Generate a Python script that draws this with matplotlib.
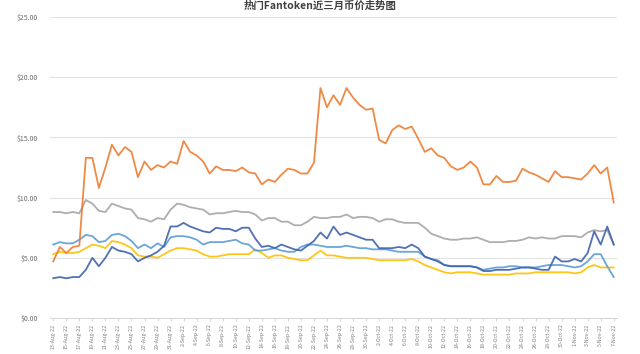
import matplotlib
matplotlib.use("Agg")
import matplotlib.pyplot as plt
import pandas as pd
import numpy as np

plt.rcParams['font.family'] = ['Noto Sans CJK SC', 'DejaVu Sans']

title = "热门Fantoken近三月币价走势图"
dates = pd.date_range("2022-08-13", "2022-11-07", freq="D")
date_labels = [f"{d.day}-{d.strftime('%b')}-22" for d in dates]

orange = [4.7, 5.9, 5.4, 5.9, 6.0, 13.3, 13.3, 10.8, 12.5, 14.4,
          13.5, 14.2, 13.8, 11.7, 13.0, 12.3, 12.7, 12.5, 13.0, 12.8,
          14.7, 13.8, 13.5, 13.0, 12.0, 12.6, 12.3, 12.3, 12.2, 12.5,
          12.1, 12.0, 11.1, 11.5, 11.3, 11.9, 12.4, 12.3, 12.0, 12.0,
          12.9,
          19.1, 17.5, 18.5, 17.7, 19.1, 18.3, 17.7, 17.3, 17.4, 14.8,
          14.5, 15.6, 16.0, 15.7, 15.9, 14.9, 13.8, 14.1, 13.5, 13.3,
          12.6, 12.3, 12.5, 13.0, 12.5, 11.1, 11.1, 11.8, 11.3, 11.3,
          11.4, 12.4, 12.1, 11.9, 11.6, 11.3, 12.2, 11.7, 11.7, 11.6,
          11.5, 12.0, 12.7, 12.0, 12.5, 9.6]

gray = [8.8, 8.8, 8.7, 8.8, 8.7, 9.8, 9.5, 8.9, 8.8, 9.5,
        9.3, 9.1, 9.0, 8.3, 8.2, 8.0, 8.3, 8.2, 9.0, 9.5,
        9.4, 9.2, 9.1, 9.0, 8.6, 8.7, 8.7, 8.8, 8.9, 8.8,
        8.8, 8.6, 8.1, 8.3, 8.3, 8.0, 8.0, 7.7, 7.7, 8.0,
        8.4, 8.3, 8.3, 8.4, 8.4, 8.6, 8.3, 8.4, 8.4, 8.3,
        8.0, 8.2, 8.2, 8.0, 7.9, 7.9, 7.9, 7.5, 7.0, 6.8,
        6.6, 6.5, 6.5, 6.6, 6.6, 6.7, 6.5, 6.3, 6.3, 6.3,
        6.4, 6.4, 6.5, 6.7, 6.6, 6.7, 6.6, 6.6, 6.8, 6.8,
        6.8, 6.7, 7.1, 7.3, 7.2, 7.3, 6.1]

dark_blue = [3.3, 3.4, 3.3, 3.4, 3.4, 4.0, 5.0, 4.3, 5.0, 5.9,
             5.6, 5.5, 5.3, 4.7, 5.0, 5.2, 5.5, 6.0, 7.6, 7.6,
             7.9, 7.6, 7.4, 7.2, 7.1, 7.5, 7.4, 7.4, 7.2, 7.5,
             7.5, 6.6, 5.9, 6.0, 5.8, 6.1, 5.9, 5.7, 5.6, 6.0,
             6.4, 7.1, 6.6, 7.6, 6.9, 7.1, 6.9, 6.7, 6.5, 6.5,
             5.8, 5.8, 5.8, 5.9, 5.8, 6.1, 5.8, 5.1, 4.9, 4.7,
             4.4, 4.3, 4.3, 4.3, 4.3, 4.2, 3.9, 3.9, 4.0, 4.0,
             4.0, 4.1, 4.2, 4.2, 4.1, 4.0, 4.0, 5.1, 4.7, 4.7,
             4.9, 4.7, 5.4, 7.2, 6.1, 7.6, 6.1]

light_blue = [6.1, 6.3, 6.2, 6.2, 6.5, 6.9, 6.8, 6.3, 6.4, 6.9,
              7.0, 6.8, 6.4, 5.8, 6.1, 5.8, 6.2, 5.9, 6.7, 6.8,
              6.8, 6.7, 6.5, 6.1, 6.3, 6.3, 6.3, 6.4, 6.5, 6.2,
              6.1, 5.6, 5.6, 5.7, 5.8, 5.6, 5.5, 5.5, 5.9, 6.1,
              6.1, 6.0, 5.9, 5.9, 5.9, 6.0, 5.9, 5.8, 5.8, 5.7,
              5.7, 5.7, 5.6, 5.5, 5.5, 5.5, 5.5, 5.1, 4.9, 4.8,
              4.4, 4.3, 4.3, 4.3, 4.3, 4.2, 4.0, 4.1, 4.2, 4.2,
              4.3, 4.3, 4.2, 4.2, 4.2, 4.3, 4.4, 4.4, 4.4, 4.3,
              4.2, 4.3, 4.7, 5.3, 5.3, 4.3, 3.4]

yellow = [5.3, 5.5, 5.4, 5.4, 5.5, 5.8, 6.1, 6.0, 5.8, 6.4,
          6.3, 6.1, 5.8, 5.2, 5.1, 5.1, 5.0, 5.3, 5.6, 5.8,
          5.8, 5.7, 5.6, 5.3, 5.1, 5.1, 5.2, 5.3, 5.3, 5.3,
          5.3, 5.7, 5.4, 5.0, 5.2, 5.2, 5.0, 4.9, 4.8, 4.8,
          5.2, 5.6, 5.2, 5.2, 5.1, 5.0, 5.0, 5.0, 5.0, 4.9,
          4.8, 4.8, 4.8, 4.8, 4.8, 4.9, 4.7, 4.4, 4.2, 4.0,
          3.8, 3.7, 3.8, 3.8, 3.8, 3.7, 3.6, 3.6, 3.6, 3.6,
          3.6, 3.7, 3.7, 3.7, 3.8, 3.8, 3.8, 3.8, 3.8, 3.8,
          3.7, 3.8, 4.2, 4.4, 4.2, 4.2, 4.2]

y_ticks = [0, 5, 10, 15, 20, 25]

fig = plt.figure(figsize=(6.4, 3.54), dpi=100)
ax = fig.add_axes([50/640, 36/354, 567/640, 301/354])

x = np.arange(len(dates))
for vals, col in [(gray, "#A5A5A5"), (yellow, "#FFC000"), (light_blue, "#5B9BD5"),
                  (dark_blue, "#3D62AC"), (orange, "#ED7D31")]:
    ax.plot(x, vals, color=col, lw=1.3, alpha=0.9, solid_joinstyle='round')

ax.set_xlim(-0.5, len(dates) - 0.5)
ax.set_ylim(0, 25)
ax.set_yticks(y_ticks)
ax.set_yticklabels([f"${v:.2f}" for v in y_ticks])
ax.grid(axis='y', color='#E3E3E3', lw=0.8)
ax.set_axisbelow(True)
ax.set_xticks(x[::2])
ax.set_xticklabels(date_labels[::2], rotation=90, fontsize=3.8, color='#7F7F7F')
ax.tick_params(axis='x', length=2, color='#D9D9D9', pad=2)
ax.tick_params(axis='y', length=0, pad=9, labelsize=5, labelcolor='#6B6B6B')
for s in ['top', 'right', 'left']:
    ax.spines[s].set_visible(False)
ax.spines['bottom'].set_color('#D9D9D9')
ax.spines['bottom'].set_linewidth(0.8)

fig.text(0.5, 0.999, title, ha='center', va='top', fontsize=7.5,
         color='#404040', fontweight='bold')

fig.savefig("out.png", dpi=100)
